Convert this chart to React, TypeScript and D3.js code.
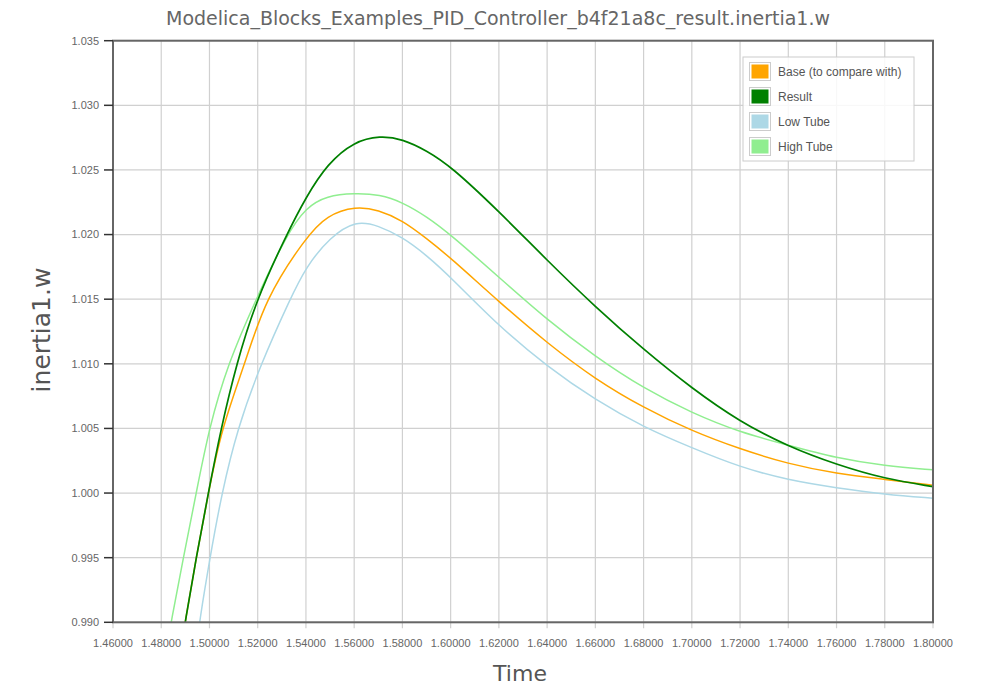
import React from "react";
import * as d3 from "d3";

const title = "Modelica_Blocks_Examples_PID_Controller_b4f21a8c_result.inertia1.w";
const xLabel = "Time";
const yLabel = "inertia1.w";

const xTicks = [1.46, 1.48, 1.5, 1.52, 1.54, 1.56, 1.58, 1.6, 1.62, 1.64, 1.66, 1.68, 1.7, 1.72, 1.74, 1.76, 1.78, 1.8];
const yTicks = [0.99, 0.995, 1.0, 1.005, 1.01, 1.015, 1.02, 1.025, 1.03, 1.035];

const resultT = [1.488, 1.4899, 1.4945, 1.4995, 1.5048, 1.5112, 1.5195, 1.532, 1.54, 1.549, 1.56, 1.5707, 1.58, 1.59, 1.6, 1.62, 1.64, 1.66, 1.68, 1.7, 1.72, 1.74, 1.76, 1.78, 1.8];
const resultV = [0.9877, 0.99, 0.995, 1.0, 1.005, 1.01, 1.015, 1.02, 1.0229, 1.0255, 1.0272, 1.02765, 1.0274, 1.0265, 1.0253, 1.0218, 1.018, 1.0144, 1.0111, 1.0081, 1.0055, 1.0036, 1.0022, 1.0011, 1.0005];

const baseT = [1.488, 1.4899, 1.4945, 1.4995, 1.505, 1.5147, 1.523, 1.54, 1.5487, 1.5607, 1.57, 1.58, 1.59, 1.6, 1.62, 1.64, 1.66, 1.68, 1.7, 1.72, 1.74, 1.76, 1.78, 1.8];
const baseV = [0.9877, 0.99, 0.995, 1.0, 1.005, 1.01, 1.015, 1.0198, 1.0215, 1.0222, 1.0219, 1.0211, 1.0197, 1.0182, 1.0148, 1.0116, 1.0088, 1.0066, 1.0048, 1.0034, 1.00225, 1.0015, 1.00106, 1.0006];

const highT = [1.4825, 1.484, 1.4892, 1.4945, 1.4998, 1.5076, 1.5193, 1.532, 1.54, 1.5487, 1.56, 1.5707, 1.58, 1.59, 1.6, 1.62, 1.64, 1.66, 1.68, 1.7, 1.72, 1.74, 1.76, 1.78, 1.8];
const highV = [0.988, 0.99, 0.995, 1.0, 1.005, 1.01, 1.015, 1.02, 1.0221, 1.0230, 1.0232, 1.0231, 1.0225, 1.0214, 1.02, 1.0167, 1.0134, 1.01055, 1.0081, 1.0062, 1.0047, 1.0037, 1.0027, 1.0021, 1.0018];

const lowT = [1.495, 1.4958, 1.5002, 1.5051, 1.5116, 1.5213, 1.5334, 1.54, 1.55, 1.5607, 1.57, 1.58, 1.59, 1.6, 1.62, 1.64, 1.66, 1.68, 1.7, 1.72, 1.74, 1.76, 1.78, 1.8];
const lowV = [0.9885, 0.99, 0.995, 1.0, 1.005, 1.01, 1.015, 1.0175, 1.0198, 1.0211, 1.0207, 1.0198, 1.0184, 1.0167, 1.0129, 1.0098, 1.0072, 1.0051, 1.0035, 1.002, 1.001, 1.0004, 0.9999, 0.9996];

const seriesNames = ["Base (to compare with)", "Result", "Low Tube", "High Tube"];
const seriesColors = ["#ffa500", "#008000", "#add8e6", "#90ee90"];

export default function App() {
  const W = 994, H = 686;
  const L = 113, R = 933, T = 40.7, B = 622.3;
  const x = d3.scaleLinear().domain([1.46, 1.8]).range([L, R]);
  const y = d3.scaleLinear().domain([0.99, 1.035]).range([B, T]);
  const line = d3.line<[number, number]>().x(d => x(d[0])).y(d => y(d[1])).curve(d3.curveBasis);
  const zip = (a: number[], b: number[]) => a.map((t, i) => [t, b[i]] as [number, number]);
  const series = [
    { name: seriesNames[2], color: seriesColors[2], data: zip(lowT, lowV), w: 1.5 },
    { name: seriesNames[3], color: seriesColors[3], data: zip(highT, highV), w: 1.5 },
    { name: seriesNames[0], color: seriesColors[0], data: zip(baseT, baseV), w: 1.5 },
    { name: seriesNames[1], color: seriesColors[1], data: zip(resultT, resultV), w: 1.7 },
  ];
  const tickFont = "'Liberation Sans', Arial, sans-serif";
  return (
    <svg width={W} height={H} style={{ position: "absolute", left: 0, top: 0, background: "#fff" }}>
      <defs>
        <clipPath id="plotclip">
          <rect x={L} y={T} width={R - L} height={B - T} />
        </clipPath>
      </defs>
      <text x={498} y={25} textAnchor="middle" fontFamily="'DejaVu Sans', sans-serif" fontSize={19} fill="#666">{title}</text>
      {xTicks.map((t, i) => (
        <line key={"gx" + i} x1={x(t)} x2={x(t)} y1={T} y2={B + 6} stroke="#d0d0d0" strokeWidth={1.2} />
      ))}
      {yTicks.map((t, i) => (
        <line key={"gy" + i} x1={L} x2={R} y1={y(t)} y2={y(t)} stroke="#d0d0d0" strokeWidth={1.2} />
      ))}
      <g clipPath="url(#plotclip)">
        {series.map(s => (
          <path key={s.name} d={line(s.data) || ""} fill="none" stroke={s.color} strokeWidth={s.w} />
        ))}
      </g>
      <rect x={L} y={T} width={R - L} height={B - T} fill="none" stroke="#666" strokeWidth={2} />
      {yTicks.map((t, i) => (
        <g key={"ty" + i}>
          <line x1={L - 9} x2={L} y1={y(t)} y2={y(t)} stroke="#333" strokeWidth={1.5} />
          <text x={L - 14} y={y(t)} dy="0.35em" textAnchor="end" fontFamily={tickFont} fontSize={11} fill="#666">{d3.format(".3f")(t)}</text>
        </g>
      ))}
      {xTicks.map((t, i) => (
        <text key={"tx" + i} x={x(t)} y={647} textAnchor="middle" fontFamily={tickFont} fontSize={11} fill="#666">{d3.format(".5f")(t)}</text>
      ))}
      <text x={520} y={681} textAnchor="middle" fontFamily="'DejaVu Sans', sans-serif" fontSize={22} fill="#555">{xLabel}</text>
      <text transform={`translate(50, ${330}) rotate(-90)`} textAnchor="middle" fontFamily="'DejaVu Sans', sans-serif" fontSize={25} fill="#555">{yLabel}</text>
      <g>
        <rect x={743} y={57} width={171} height={104} fill="#fff" fillOpacity={0.85} stroke="#ccc" strokeWidth={1} />
        {seriesNames.map((n, i) => (
          <g key={n}>
            <rect x={749.5} y={62.5 + i * 25} width={21} height={18} fill="#fff" stroke="#ccc" strokeWidth={1} />
            <rect x={751.5} y={64.5 + i * 25} width={17} height={14} fill={seriesColors[i]} />
            <text x={778} y={71.5 + i * 25} dy="0.35em" fontFamily={tickFont} fontSize={12} fill="#555">{n}</text>
          </g>
        ))}
      </g>
    </svg>
  );
}
